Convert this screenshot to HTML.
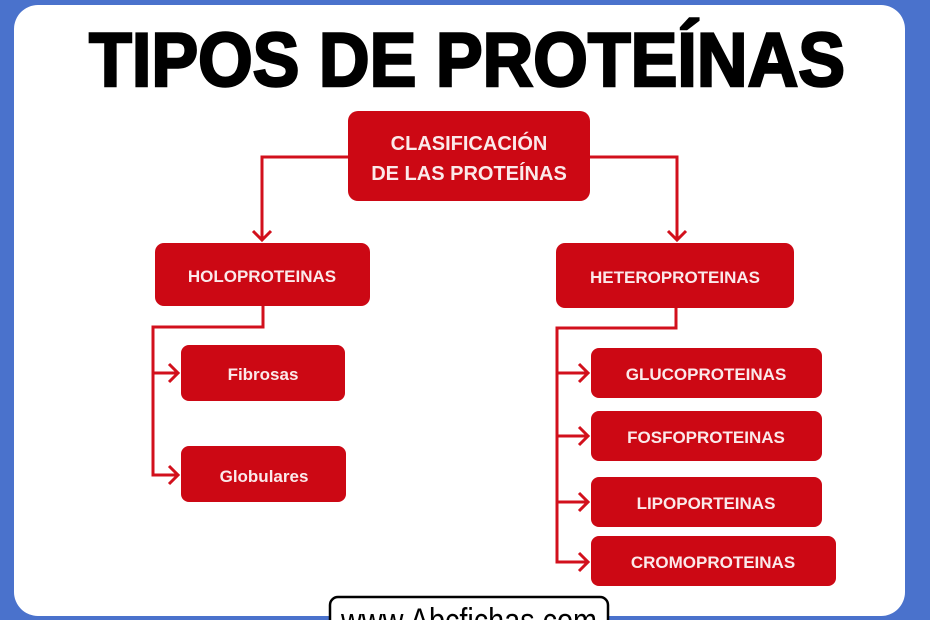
<!DOCTYPE html>
<html><head><meta charset="utf-8"><style>
html,body{margin:0;padding:0;width:930px;height:620px;overflow:hidden;background:#4a72cc}
</style></head><body>
<svg width="930" height="620" viewBox="0 0 930 620" xmlns="http://www.w3.org/2000/svg" font-family="Liberation Sans, sans-serif">
<rect x="0" y="0" width="930" height="620" fill="#4a72cc"/>
<rect x="14" y="5" width="891" height="611" rx="24" fill="#fff"/>
<text x="467" y="86" text-anchor="middle" font-size="76" font-weight="bold" fill="#000" textLength="756" lengthAdjust="spacingAndGlyphs" stroke="#000" stroke-width="2.5">TIPOS DE PROTEÍNAS</text>
<g stroke="#d2101c" stroke-width="3" fill="none">
<polyline points="348,157 262,157 262,240"/>
<polyline points="590,157 677,157 677,240"/>
<polyline points="253,231 262,240 271,231"/>
<polyline points="668,231 677,240 686,231"/>
<polyline points="263,306 263,327 153,327 153,475 178,475"/>
<line x1="153" y1="373" x2="178" y2="373"/>
<polyline points="169,364 178,373 169,382"/>
<polyline points="169,466 178,475 169,484"/>
<polyline points="676,308 676,328 557,328 557,562 588,562"/>
<line x1="557" y1="373" x2="588" y2="373"/>
<line x1="557" y1="436" x2="588" y2="436"/>
<line x1="557" y1="502" x2="588" y2="502"/>
<polyline points="579,364 588,373 579,382"/>
<polyline points="579,427 588,436 579,445"/>
<polyline points="579,493 588,502 579,511"/>
<polyline points="579,553 588,562 579,571"/>
</g>
<g fill="#cc0814">
<rect x="348" y="111" width="242" height="90" rx="10"/>
<rect x="155" y="243" width="215" height="63" rx="9"/>
<rect x="556" y="243" width="238" height="65" rx="9"/>
<rect x="181" y="345" width="164" height="56" rx="8"/>
<rect x="181" y="446" width="165" height="56" rx="8"/>
<rect x="591" y="348" width="231" height="50" rx="8"/>
<rect x="591" y="411" width="231" height="50" rx="8"/>
<rect x="591" y="477" width="231" height="50" rx="8"/>
<rect x="591" y="536" width="245" height="50" rx="8"/>
</g>
<g fill="#fbe9ea" font-size="19" text-anchor="middle">
<text x="469" y="150" font-size="20" font-weight="600">CLASIFICACIÓN</text>
<text x="469" y="180" font-size="20" font-weight="600">DE LAS PROTEÍNAS</text>
<text x="262" y="282" font-weight="bold" font-size="17">HOLOPROTEINAS</text>
<text x="675" y="283" font-weight="bold" font-size="17">HETEROPROTEINAS</text>
<text x="263" y="380" font-weight="bold" font-size="17">Fibrosas</text>
<text x="264" y="482" font-weight="bold" font-size="17">Globulares</text>
<text x="706" y="380" font-weight="bold" font-size="17">GLUCOPROTEINAS</text>
<text x="706" y="443" font-weight="bold" font-size="17">FOSFOPROTEINAS</text>
<text x="706" y="509" font-weight="bold" font-size="17">LIPOPORTEINAS</text>
<text x="713" y="568" font-weight="bold" font-size="17">CROMOPROTEINAS</text>
</g>
<rect x="330" y="597" width="278" height="40" rx="8" fill="#fff" stroke="#000" stroke-width="2.5"/>
<text x="469" y="632" text-anchor="middle" font-size="34" fill="#000" textLength="256" lengthAdjust="spacingAndGlyphs">www.Abcfichas.com</text>
</svg>
</body></html>
